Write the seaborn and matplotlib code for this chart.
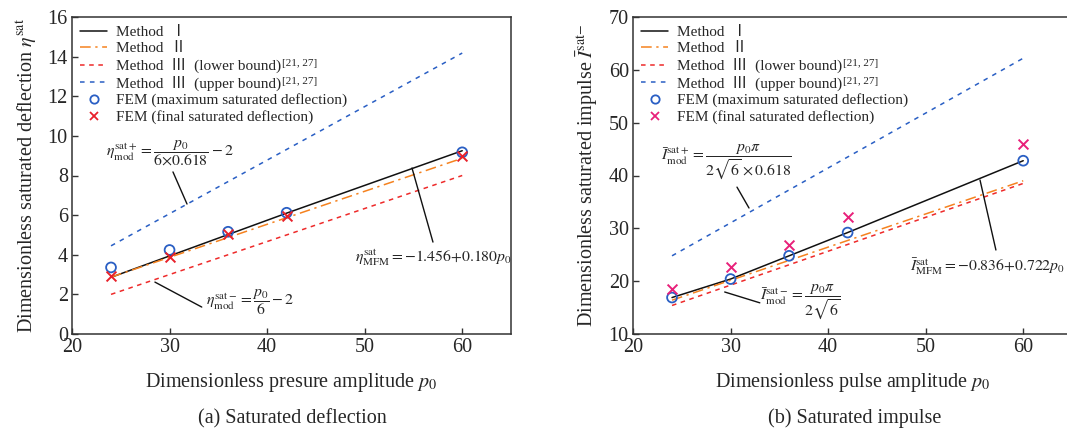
import numpy as np
import pandas as pd
import matplotlib
matplotlib.use("Agg")
import matplotlib.pyplot as plt
import seaborn as sns
from matplotlib.lines import Line2D

sns.set_theme(style="ticks")
plt.rcParams['font.family'] = ['Liberation Serif', 'Noto Sans CJK SC']
plt.rcParams['mathtext.fontset'] = 'stix'
plt.rcParams['axes.unicode_minus'] = True

# ---------------- data ----------------
p_fem = [24, 30, 36, 42, 60]
p_end = [24, 60]

# (a) saturated deflection
a_method1 = [2.86, 3.94, 5.02, 6.10, 9.25]
a_method2 = [2.87, 8.87]
a_lower = [2.0, 8.0]
a_upper = [4.45, 14.18]
a_fem_max = [3.36, 4.24, 5.16, 6.12, 9.17]
a_fem_final = [2.94, 3.90, 5.03, 5.95, 9.00]

# (b) saturated impulse
b_method1 = [16.9, 20.4, 24.8, 29.2, 42.8]
b_method2 = [16.4, 39.0]
b_lower = [15.4, 38.5]
b_upper = [24.8, 62.2]
b_fem_max = [16.9, 20.4, 24.8, 29.2, 42.8]
b_fem_final = [18.6, 22.6, 26.8, 32.1, 45.9]

x_ticks = [20, 30, 40, 50, 60]
a_yticks = [0, 2, 4, 6, 8, 10, 12, 14, 16]
b_yticks = [10, 20, 30, 40, 50, 60, 70]

legend_labels = ['Method  \u2160', 'Method  \u2161',
                 'Method  \u2162  (lower bound)',
                 'Method  \u2162  (upper bound)',
                 'FEM (maximum saturated deflection)',
                 'FEM (final saturated deflection)']
ref_sup = '[21, 27]'

C_BLACK = '#111111'
C_ORANGE = '#f5821f'
C_RED = '#ee2a2a'
C_BLUE = '#2a5fc4'
DASH_OR = (0, (7, 3, 1.5, 3))
DASH_RED = (0, (3, 3))
DASH_BLUE = (0, (3, 3.5))

fig = plt.figure(figsize=(10.67, 4.32), dpi=100)
axA = fig.add_axes([72/1067, 1-334/432, 439/1067, 317/432])
axB = fig.add_axes([633/1067, 1-334/432, 439/1067, 317/432])


def draw(ax, m1, m2, lo, up, fmax, ffin, xcol):
    sns.lineplot(x=p_fem, y=m1, ax=ax, color=C_BLACK, lw=1.1, label=legend_labels[0])
    sns.lineplot(x=p_end, y=m2, ax=ax, color=C_ORANGE, lw=1.1,
                 linestyle=DASH_OR, label=legend_labels[1])
    sns.lineplot(x=p_end, y=lo, ax=ax, color=C_RED, lw=1.1,
                 linestyle=DASH_RED, label=legend_labels[2])
    sns.lineplot(x=p_end, y=up, ax=ax, color=C_BLUE, lw=1.1,
                 linestyle=DASH_BLUE, label=legend_labels[3])
    sns.scatterplot(x=p_fem, y=fmax, ax=ax, marker='o', s=50, facecolor='none',
                    edgecolor=C_BLUE, linewidth=1.3, label=legend_labels[4], zorder=5)
    sns.scatterplot(x=p_fem, y=ffin, ax=ax, marker='x', s=50, color=xcol,
                    linewidth=1.4, label=legend_labels[5], zorder=5)
    handles = [
        Line2D([], [], color=C_BLACK, lw=1.1),
        Line2D([], [], color=C_ORANGE, lw=1.1, linestyle=DASH_OR),
        Line2D([], [], color=C_RED, lw=1.1, linestyle=DASH_RED),
        Line2D([], [], color=C_BLUE, lw=1.1, linestyle=DASH_BLUE),
        Line2D([], [], marker='o', ls='none', mfc='none', mec=C_BLUE, mew=1.3, ms=6),
        Line2D([], [], marker='x', ls='none', color=xcol, mew=1.3, ms=6),
    ]
    leg = ax.legend(handles, legend_labels, loc='upper left', frameon=False,
                    fontsize=11, handlelength=1.75, handletextpad=0.55,
                    labelspacing=0.17, borderaxespad=0.3, borderpad=0.25,
                    bbox_to_anchor=(0.0, 1.0))
    ax.set_xlim(20, 65)
    ax.set_xticks(x_ticks)
    ax.tick_params(direction='in', length=4, width=1, labelsize=14.5, pad=3,
                   top=False, right=False, color='#333333')
    for s in ax.spines.values():
        s.set_linewidth(1.1)
        s.set_color('#333333')
    return leg


legA = draw(axA, a_method1, a_method2, a_lower, a_upper, a_fem_max, a_fem_final, '#e8202a')
legB = draw(axB, b_method1, b_method2, b_lower, b_upper, b_fem_max, b_fem_final, '#e8207a')

axA.set_ylim(0, 16)
axA.set_yticks(a_yticks)
axB.set_ylim(10, 70)
axB.set_yticks(b_yticks)

axA.set_xlabel('Dimensionless presure amplitude $p_0$', fontsize=14.5, labelpad=10)
axB.set_xlabel('Dimensionless pulse amplitude $p_0$', fontsize=14.5, labelpad=10)
axA.set_ylabel('Dimensionless saturated deflection $\\eta^{\\rm sat}$', fontsize=14.5, labelpad=6)
axB.set_ylabel('Dimensionless saturated impulse $\\bar{I}^{\\rm sat\\!-}$', fontsize=14.5, labelpad=6)

ann_kw = dict(arrowprops=dict(arrowstyle='-', color=C_BLACK, lw=1.0, shrinkA=0, shrinkB=0))
FS_EQ = 11.3

# (a) annotations
axA.annotate('', xy=(31.79, 6.56), xytext=(30.35, 8.18), **ann_kw)
axA.text(30.0, 9.13, r'$\eta^{\rm sat+}_{\rm mod}=\dfrac{p_0}{6{\times}0.618}-2$',
         fontsize=FS_EQ, ha='center', va='center')
axA.annotate('', xy=(57.0, 4.64), xytext=(54.85, 8.38), **ann_kw)
axA.text(57.0, 3.83, r'$\eta^{\rm sat}_{\rm MFM}=-1.456{+}0.180p_0$',
         fontsize=FS_EQ, ha='center', va='center')
axA.annotate('', xy=(33.3, 1.36), xytext=(28.5, 2.62), **ann_kw)
axA.text(38.3, 1.61, r'$\eta^{\rm sat-}_{\rm mod}=\dfrac{p_0}{6}-2$',
         fontsize=FS_EQ, ha='center', va='center')

# (b) annotations
axB.annotate('', xy=(31.89, 33.85), xytext=(30.66, 37.8), **ann_kw)
axB.text(29.6, 42.4, r'$\bar{I}^{\rm sat+}_{\rm mod}=\dfrac{p_0\pi}{2\sqrt{6}\times0.618}$',
         fontsize=FS_EQ, ha='center', va='center')
axB.annotate('', xy=(57.2, 25.9), xytext=(55.57, 39.15), **ann_kw)
axB.text(56.3, 22.7, r'$\bar{I}^{\rm sat}_{\rm MFM}=-0.836{+}0.722p_0$',
         fontsize=FS_EQ, ha='center', va='center')
axB.annotate('', xy=(33.0, 15.9), xytext=(29.4, 17.95), **ann_kw)
axB.text(37.2, 15.9, r'$\bar{I}^{\rm sat-}_{\rm mod}=\dfrac{p_0\pi}{2\sqrt{6}}$',
         fontsize=FS_EQ, ha='center', va='center')

fig.text(292/1067, 1-419/432, '(a) Saturated deflection', fontsize=14.5, ha='center', va='center')
fig.text(855/1067, 1-418/432, '(b) Saturated impulse', fontsize=14.5, ha='center', va='center')

# reference superscripts after the Method III legend entries
fig.canvas.draw()
inv = fig.transFigure.inverted()
for leg in (legA, legB):
    for t in leg.get_texts()[2:4]:
        bb = t.get_window_extent()
        x, y = inv.transform((bb.x1 + 1, bb.y1 - 1))
        fig.text(x, y, ref_sup, fontsize=8, ha='left', va='top')

fig.savefig('out.png', dpi=100, facecolor='white')
